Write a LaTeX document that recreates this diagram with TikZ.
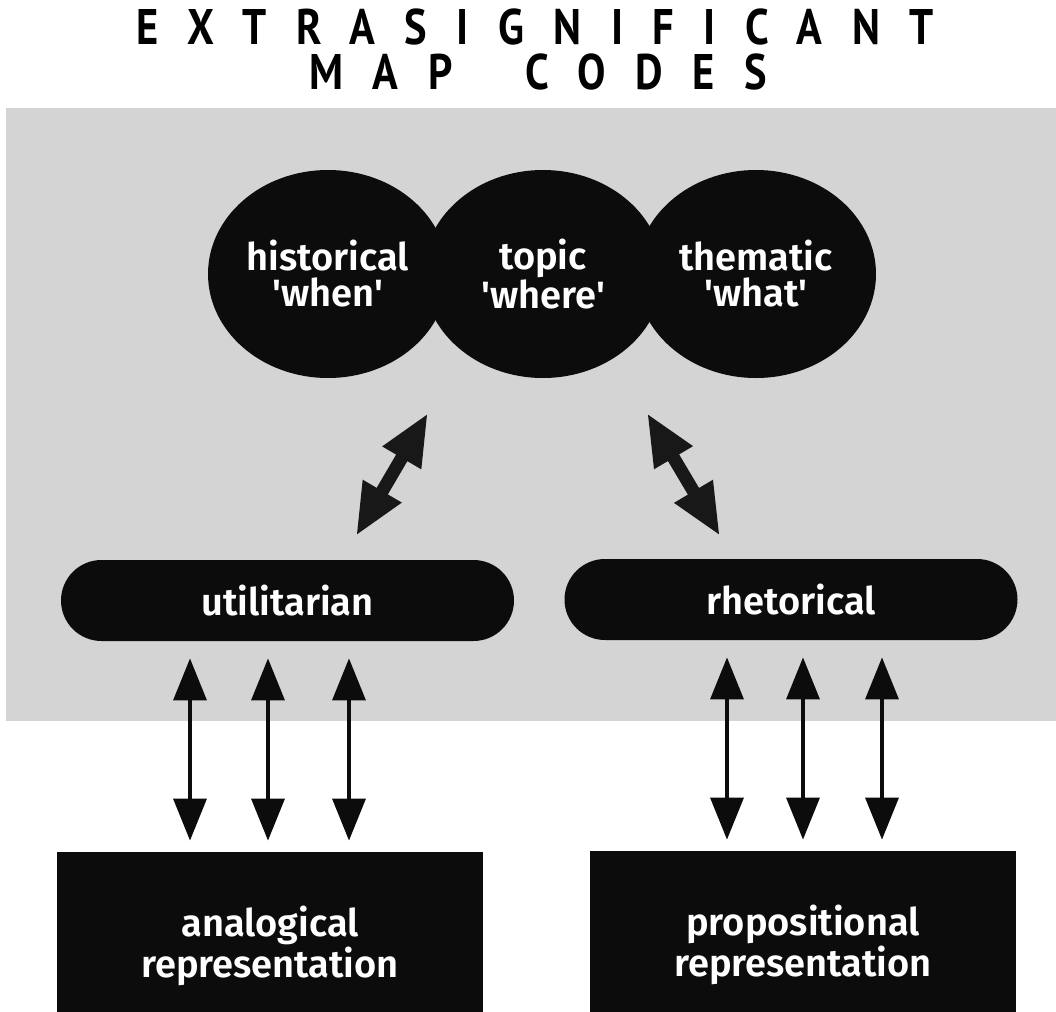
\documentclass[tikz,border=0pt]{standalone}
\usepackage{fontspec}
\setmainfont{Fira Sans}[BoldFont={Fira Sans SemiBold}]
\newfontfamily\titlefont{PT Sans}[LetterSpace=59, FakeStretch=0.85]
\usetikzlibrary{shapes.geometric, shapes.misc, arrows.meta}

\definecolor{panelgray}{RGB}{212,212,212}
\definecolor{ink}{RGB}{12,12,12}
\newcommand\bodyfont{\fontsize{19pt}{18pt}\selectfont\bfseries}
\newcommand\headfont{\titlefont\bfseries\fontsize{25pt}{25pt}\selectfont}
\newcommand\sq{\textquotesingle}

\tikzset{
  heading/.style={font=\headfont, inner sep=0pt, anchor=base},
  blob/.style={ellipse, fill=ink, minimum width=120pt, minimum height=104pt,
    inner sep=0pt, text=white, align=center, font=\bodyfont},
  pill/.style={rounded rectangle, fill=ink, minimum width=226.5pt,
    minimum height=40.5pt, inner sep=0pt, text=white, font=\bodyfont},
  repbox/.style={rectangle, fill=ink, minimum width=213pt, minimum height=94pt,
    inner sep=0pt, text=white, align=center, font=\bodyfont},
  linkarrow/.style={line width=1.75pt, draw=ink,
    {Triangle[length=21pt,width=16.5pt]}-{Triangle[length=21pt,width=16.5pt]},
    shorten <=8.5pt, shorten >=5.5pt},
  fatarrow/.style={line width=6.5pt, draw=ink!95!white,
    {Triangle[length=26pt,width=20.5pt]}-{Triangle[length=26pt,width=20.5pt]}},
}

\begin{document}
\begin{tikzpicture}[x=0.5pt, y=-0.5pt]
  \useasboundingbox (0,0) rectangle (1056,1012);

  % shaded panel behind the upper part
  \fill[panelgray] (6,108) rectangle (1056,721);

  % heading, two letter-spaced lines
  \node[heading] (title1) at (535,45) {EXTRASIGNIFICANT};
  \node[heading] (title2) at (538,90) {MAP\hspace{16.5pt} CODES};

  % the three overlapping code discs
  \node[blob] (hist)  at (328,274) {historical\\\sq when\sq};
  \node[blob] (topic) at (543,274) {topic\\\sq where\sq};
  \node[blob] (theme) at (756,274) {thematic\\\sq what\sq};

  % function lozenges
  \node[pill] (util) at (287.5,600.5) {utilitarian};
  \node[pill] (rhet) at (791,599.5) {rhetorical};

  % representation boxes
  \node[repbox] (analog) at (270,946) {analogical\\representation};
  \node[repbox] (prop)   at (803,945) {propositional\\representation};

  % ends of the two thick diagonal arrows
  \coordinate (dlA) at (356,536);
  \coordinate (dlB) at (428,413);
  \coordinate (drA) at (720,536);
  \coordinate (drB) at (647,413);
  \draw[fatarrow] (dlA) -- (dlB);
  \draw[fatarrow] (drA) -- (drB);

  % columns of the thin vertical arrows
  \coordinate (u1) at (190,0);
  \coordinate (u2) at (268,0);
  \coordinate (u3) at (349,0);
  \coordinate (r1) at (727,0);
  \coordinate (r2) at (803,0);
  \coordinate (r3) at (882,0);
  \foreach \c in {u1,u2,u3}
    \draw[linkarrow] (\c |- util.south) -- (\c |- analog.north);
  \foreach \c in {r1,r2,r3}
    \draw[linkarrow] (\c |- rhet.south) -- (\c |- prop.north);
\end{tikzpicture}
\end{document}
